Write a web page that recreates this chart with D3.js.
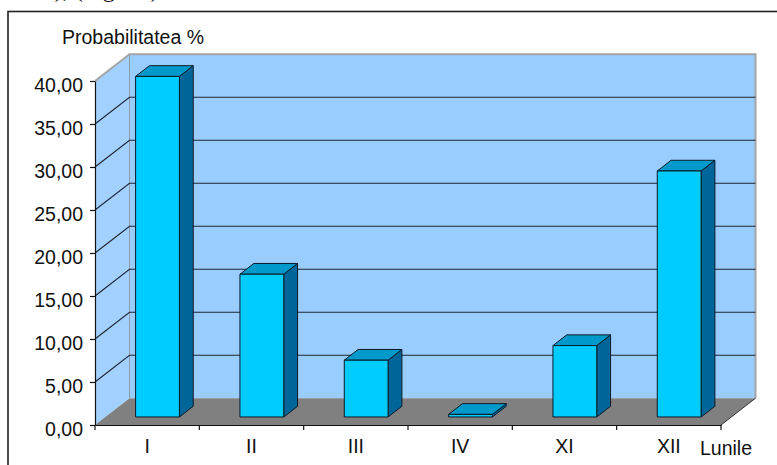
<!DOCTYPE html>
<html>
<head>
<meta charset="utf-8">
<script src="https://cdn.jsdelivr.net/npm/d3@7"></script>
<style>
  html, body { margin: 0; padding: 0; background: #fff; }
  svg { display: block; }
  text { font-family: "Liberation Sans", Arial, sans-serif; fill: #111; }
</style>
</head>
<body>
<svg id="chart" width="777" height="465"></svg>
<script>
// Monthly probability (%) — 3D column chart
const categories = ["I", "II", "III", "IV", "XI", "XII"];
const values = [39.6, 16.6, 6.6, 0.3, 8.3, 28.6];
const yTicks = [0, 5, 10, 15, 20, 25, 30, 35, 40];
const yTitle = "Probabilitatea %";
const xTitle = "Lunile";
const captionTail = "ă), (Fig. 10)";

const svg = d3.select("#chart");
const W = 777, H = 465;

// front plane of the plot
const x = d3.scaleBand().domain(categories).range([95, 721]).paddingInner(0.58).paddingOuter(0.29);
const y = d3.scaleLinear().domain([0, 40]).range([425, 81]);

// oblique depth projection (z = 0 front, z = 1 back wall)
const DX = 34.5, DY = -26.8;
const proj = (px, py, z) => [px + z * DX, py + z * DY];
const x0 = x.range()[0], x1 = x.range()[1];

// caption line above the frame (runs off the top of the page)
svg.append("text")
  .attr("x", 44).attr("y", -3)
  .style("font-family", "'Liberation Serif', 'Times New Roman', serif")
  .style("font-size", "24px")
  .text(captionTail);

// outer frame
svg.append("rect")
  .attr("x", 8).attr("y", 11.5).attr("width", W + 40).attr("height", H + 40)
  .attr("fill", "none").attr("stroke", "#222").attr("stroke-width", 1.6);

const line = d3.line();
const wallFill = "#99ccff";

// side wall
svg.append("path")
  .attr("d", line([[x0, y(0)], [x0, y(40)], proj(x0, y(40), 1), proj(x0, y(0), 1)]) + "Z")
  .attr("fill", "#a2d0ff").attr("stroke", "none");

// back wall
svg.append("path")
  .attr("d", line([proj(x0, y(40), 1), proj(x1, y(40), 1), proj(x1, y(0), 1), proj(x0, y(0), 1)]) + "Z")
  .attr("fill", wallFill).attr("stroke", "none");

// wall edges
svg.append("path")
  .attr("d", line([[x0, y(40)], proj(x0, y(40), 1), proj(x1, y(40), 1), proj(x1, y(0), 1)]))
  .attr("fill", "none").attr("stroke", "#a4a4a4").attr("stroke-width", 2);
svg.append("path")
  .attr("d", line([proj(x0, y(40), 1), proj(x0, y(0), 1)]))
  .attr("fill", "none").attr("stroke", "#8a9cb0").attr("stroke-width", 1);

// gridlines: diagonal on the side wall, horizontal on the back wall
const grid = svg.append("g").attr("fill", "none").attr("stroke", "#1e2630").attr("stroke-width", 1.1);
yTicks.filter(t => t > 0 && t < 40).forEach(t => {
  grid.append("path").attr("d", line([[x0, y(t)], proj(x0, y(t), 1), proj(x1, y(t), 1)]));
});

// floor
svg.append("path")
  .attr("d", line([[x0, y(0)], [x1, y(0)], proj(x1, y(0), 1), proj(x0, y(0), 1)]) + "Z")
  .attr("fill", "#808080").attr("stroke", "none");
svg.append("path")
  .attr("d", line([[x1, y(0)], proj(x1, y(0), 1)]))
  .attr("fill", "none").attr("stroke", "#333").attr("stroke-width", 1);

// bars
const z0 = 0.3, z1 = 0.7;
const bars = svg.append("g").attr("stroke", "#0a1a26").attr("stroke-width", 1).attr("stroke-linejoin", "round");
categories.forEach((c, i) => {
  const v = values[i];
  const bx0 = x(c), bx1 = x(c) + x.bandwidth();
  const fTL = proj(bx0, y(v), z0), fTR = proj(bx1, y(v), z0);
  const fBL = proj(bx0, y(0), z0), fBR = proj(bx1, y(0), z0);
  const bTL = proj(bx0, y(v), z1), bTR = proj(bx1, y(v), z1);
  const bBR = proj(bx1, y(0), z1);
  // right side
  bars.append("path").attr("d", line([fTR, bTR, bBR, fBR]) + "Z").attr("fill", "#006699");
  // top
  bars.append("path").attr("d", line([fTL, fTR, bTR, bTL]) + "Z").attr("fill", "#0099cc");
  // front
  bars.append("path").attr("d", line([fTL, fTR, fBR, fBL]) + "Z").attr("fill", "#00ccff");
});

// value axis
const fmt = d => d3.format(".2f")(d).replace(".", ",");
const yAxis = svg.append("g")
  .attr("transform", `translate(${x0},0)`)
  .call(d3.axisLeft(y).tickValues(yTicks).tickFormat(fmt).tickSize(5).tickSizeOuter(0).tickPadding(7));
yAxis.select(".domain").attr("stroke", "#111").attr("stroke-width", 1.2);
yAxis.selectAll(".tick line").attr("stroke", "#111").attr("stroke-width", 1.2);
yAxis.selectAll(".tick text")
  .style("font-size", "19.5px").style("font-family", "'Liberation Sans', Arial, sans-serif")
  .attr("fill", "#111").attr("dy", "0.55em");

// category axis
const xAxis = svg.append("g")
  .attr("transform", `translate(0,${y(0)})`)
  .call(d3.axisBottom(x).tickSize(0).tickPadding(14));
xAxis.select(".domain").attr("stroke", "#111").attr("stroke-width", 1.2);
xAxis.selectAll(".tick text")
  .style("font-size", "19.5px").style("font-family", "'Liberation Sans', Arial, sans-serif")
  .attr("fill", "#111");
// boundary ticks between categories
const bounds = d3.range(categories.length + 1).map(k => x0 + k * x.step());
xAxis.selectAll(".bound").data(bounds).join("line")
  .attr("class", "bound")
  .attr("x1", d => d).attr("x2", d => d).attr("y1", 0).attr("y2", 5)
  .attr("stroke", "#111").attr("stroke-width", 1.2);

// titles
svg.append("text").attr("x", 62).attr("y", 44)
  .style("font-size", "19.5px").text(yTitle);
svg.append("text").attr("x", 700).attr("y", 455)
  .style("font-size", "19.5px").text(xTitle);
</script>
</body>
</html>
